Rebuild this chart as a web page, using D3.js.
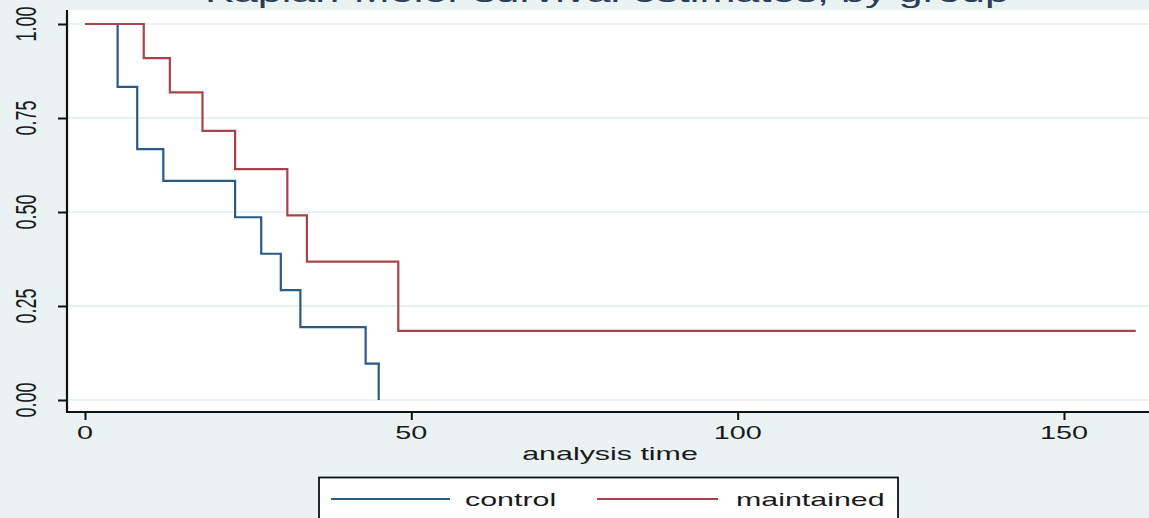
<!DOCTYPE html>
<html>
<head>
<meta charset="utf-8">
<script src="https://cdn.jsdelivr.net/npm/d3@7"></script>
<style>
  html, body { margin: 0; padding: 0; background: #eaf2f3; overflow: hidden; }
  svg { display: block; font-family: "Liberation Sans", Arial, sans-serif; }
</style>
</head>
<body>
<svg id="chart" width="1149" height="518"></svg>
<script>
// ---- data ----
const groups = ["control", "maintained"];
const controlTimes = [0, 5, 8, 12, 23, 27, 30, 33, 43, 45];
const controlSurv  = [1.0, 0.833, 0.667, 0.583, 0.486, 0.389, 0.292, 0.194, 0.097, 0.0];
const maintTimes   = [0, 9, 13, 18, 23, 31, 34, 48, 161];
const maintSurv    = [1.0, 0.909, 0.818, 0.716, 0.614, 0.491, 0.368, 0.184, 0.184];
const xTicks = [0, 50, 100, 150];
const yTicks = [0, 0.25, 0.5, 0.75, 1.0];
const titleText = "Kaplan-Meier survival estimates, by group";
const xTitle = "analysis time";

// ---- layout ----
const W = 1149, H = 518;
const plot = { left: 67, top: 10, right: 1160, bottom: 412 };
const SX = 1.6; // horizontal stretch of the reference text
const colors = { control: "#2a5a86", maintained: "#a8434b" };

const svg = d3.select("#chart");
svg.append("rect").attr("width", W).attr("height", H).attr("fill", "#eaf2f3");

const x = d3.scaleLinear().domain([0, 150]).range([85, 1064]);
const y = d3.scaleLinear().domain([0, 1]).range([400, 24]);

// plot region
svg.append("rect")
  .attr("x", plot.left).attr("y", plot.top)
  .attr("width", plot.right - plot.left).attr("height", plot.bottom - plot.top)
  .attr("fill", "#ffffff");

// gridlines
svg.append("g").selectAll("line").data(yTicks).join("line")
  .attr("x1", plot.left).attr("x2", plot.right)
  .attr("y1", d => y(d)).attr("y2", d => y(d))
  .attr("stroke", "#e3edef").attr("stroke-width", 1.6);

// title (mostly cut off at top)
svg.append("text")
  .attr("transform", `translate(607,1.5) scale(${SX},1)`)
  .attr("text-anchor", "middle")
  .attr("font-size", 27)
  .attr("fill", "#2c3d57")
  .text(titleText);

// survival curves
const line = d3.line().curve(d3.curveStepAfter).x(d => x(d[0])).y(d => y(d[1]));
const series = [
  { name: "control", data: d3.zip(controlTimes, controlSurv) },
  { name: "maintained", data: d3.zip(maintTimes, maintSurv) }
];
svg.append("g").selectAll("path").data(series).join("path")
  .attr("d", d => line(d.data))
  .attr("fill", "none")
  .attr("stroke", d => colors[d.name])
  .attr("stroke-width", 2.2)
  .attr("stroke-linejoin", "miter");

// y axis
const yAxis = d3.axisLeft(y).tickValues(yTicks).tickSize(9).tickFormat("");
const gy = svg.append("g").attr("transform", `translate(${plot.left},0)`).call(yAxis);
gy.select(".domain").remove();
gy.selectAll(".tick line").attr("stroke", "#111").attr("stroke-width", 2);
svg.append("line").attr("x1", plot.left).attr("x2", plot.left)
  .attr("y1", plot.top).attr("y2", plot.bottom + 1)
  .attr("stroke", "#111").attr("stroke-width", 2.2);
svg.append("g").selectAll("text").data(yTicks).join("text")
  .attr("transform", d => `translate(36,${y(d)}) scale(${SX},1) rotate(-90)`)
  .attr("text-anchor", "middle")
  .attr("font-size", 18)
  .attr("fill", "#1a1a1a")
  .text(d => d3.format(".2f")(d));

// x axis
const xAxis = d3.axisBottom(x).tickValues(xTicks).tickSize(8).tickFormat("");
const gx = svg.append("g").attr("transform", `translate(0,${plot.bottom})`).call(xAxis);
gx.select(".domain").remove();
gx.selectAll(".tick line").attr("stroke", "#111").attr("stroke-width", 2);
svg.append("line").attr("x1", plot.left - 1).attr("x2", plot.right)
  .attr("y1", plot.bottom).attr("y2", plot.bottom)
  .attr("stroke", "#111").attr("stroke-width", 2.2);
svg.append("g").selectAll("text").data(xTicks).join("text")
  .attr("transform", d => `translate(${x(d)},438.5) scale(${SX},1)`)
  .attr("text-anchor", "middle")
  .attr("font-size", 18)
  .attr("fill", "#1a1a1a")
  .text(d => d);

svg.append("text")
  .attr("transform", `translate(610,460) scale(${SX},1)`)
  .attr("text-anchor", "middle")
  .attr("font-size", 19)
  .attr("fill", "#1a1a1a")
  .text(xTitle);

// legend
const lg = svg.append("g");
lg.append("rect").attr("x", 319).attr("y", 477.5).attr("width", 579).attr("height", 50)
  .attr("fill", "#ffffff").attr("stroke", "#111").attr("stroke-width", 1.8);
const legendItems = [
  { name: groups[0], x1: 331, x2: 450, tx: 465 },
  { name: groups[1], x1: 597, x2: 718, tx: 736 }
];
lg.selectAll("line.key").data(legendItems).join("line")
  .attr("class", "key")
  .attr("x1", d => d.x1).attr("x2", d => d.x2)
  .attr("y1", 499).attr("y2", 499)
  .attr("stroke", d => colors[d.name]).attr("stroke-width", 2.2);
lg.selectAll("text").data(legendItems).join("text")
  .attr("transform", d => `translate(${d.tx},505.5) scale(${SX},1)`)
  .attr("font-size", 19)
  .attr("fill", "#1a1a1a")
  .text(d => d.name);
</script>
</body>
</html>
